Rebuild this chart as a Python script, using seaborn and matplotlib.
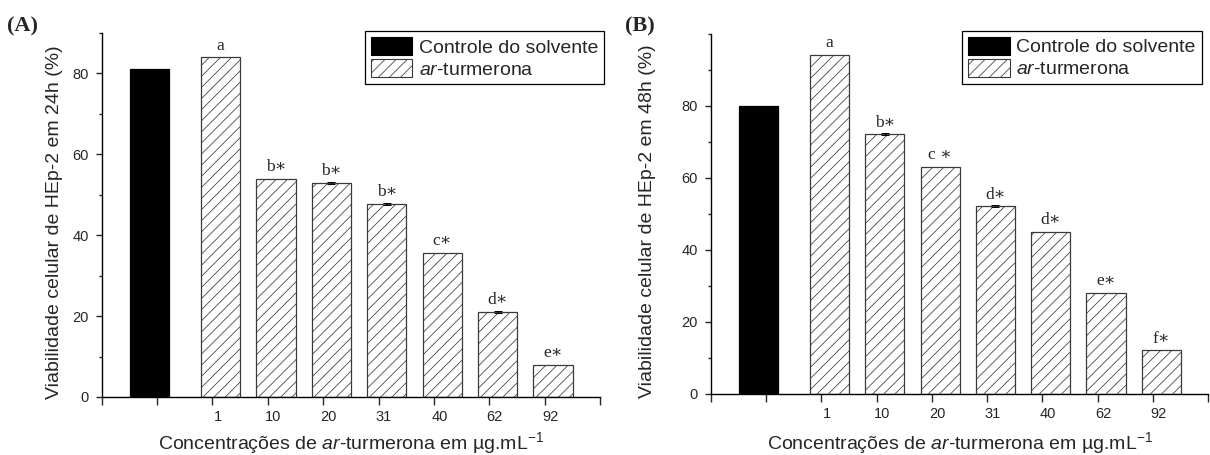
import numpy as np
import pandas as pd
import matplotlib
matplotlib.use("Agg")
import matplotlib.pyplot as plt
from matplotlib.patches import Patch
import seaborn as sns

# --- dados -------------------------------------------------------------
grupos = ["Controle do solvente", "ar-turmerona"]
concentracoes = ["1", "10", "20", "31", "40", "62", "92"]

# primeiro valor = controle do solvente, depois as 7 concentrações
viab_24h = [81.0, 84.0, 54.0, 53.0, 47.7, 35.7, 21.0, 8.0]
erro_24h = [0.0, 0.0, 0.0, 0.25, 0.25, 0.0, 0.25, 0.0]
letras_24h = ["", "a", "b\u2217", "b\u2217", "b\u2217", "c\u2217", "d\u2217", "e\u2217"]

viab_48h = [80.0, 94.0, 72.0, 63.0, 52.0, 45.0, 28.0, 12.0]
erro_48h = [0.0, 0.0, 0.25, 0.0, 0.25, 0.0, 0.0, 0.0]
letras_48h = ["", "a", "b\u2217", "c \u2217", "d\u2217", "d\u2217", "e\u2217", "f\u2217"]

ticks_y = [0, 20, 40, 60, 80]

# --- estilo ------------------------------------------------------------
sns.set_style("ticks")
plt.rcParams["font.family"] = ["Liberation Sans", "DejaVu Sans"]
plt.rcParams["mathtext.fontset"] = "custom"
plt.rcParams["mathtext.rm"] = "Liberation Sans"
plt.rcParams["mathtext.it"] = "Liberation Sans:italic"
plt.rcParams["mathtext.sf"] = "Liberation Sans"
plt.rcParams["hatch.linewidth"] = 0.55
plt.rcParams["axes.linewidth"] = 1.0

SERIF = ["Liberation Serif", "DejaVu Serif"]
COR_BORDA = "#3a3a3a"
HACHURA = "///"

# posição do controle separada das concentrações
posicoes = [0.86] + [k + 2.15 for k in range(len(concentracoes))]
pos_rotulos = [k + 2.1 for k in range(len(concentracoes))]


def painel(fig, rect, valores, erros, letras, ylabel, ymax,
           leg_anchor, ylabel_x, xlabel_y):
    ax = fig.add_axes(rect)
    df = pd.DataFrame({
        "pos": posicoes,
        "valor": valores,
        "grupo": [grupos[0]] + [grupos[1]] * len(concentracoes),
    })
    sns.barplot(data=df, x="pos", y="valor", hue="grupo", hue_order=grupos,
                palette={grupos[0]: "black", grupos[1]: "white"},
                native_scale=True, dodge=False, width=0.71, errorbar=None,
                legend=False, linewidth=0.9, edgecolor=COR_BORDA, ax=ax)

    for p in ax.patches:
        if p.get_facecolor()[0] > 0.5:
            p.set_hatch(HACHURA)
            p.set_edgecolor(COR_BORDA)
        else:
            p.set_edgecolor("black")

    for x, v, e in zip(posicoes, valores, erros):
        if e > 0:
            ax.errorbar(x, v, yerr=e, color="black", capsize=3,
                        elinewidth=0.6, capthick=0.7)

    for x, v, t in zip(posicoes, valores, letras):
        if t:
            ax.annotate(t, (x, v), xytext=(0, 5.5), textcoords="offset points",
                        ha="center", va="baseline", fontsize=12.5,
                        family=SERIF)

    # eixos
    ax.set_xlim(0, 9)
    ax.set_ylim(0, ymax)
    ax.set_xticks(range(10))
    ax.set_xticklabels([])
    ax.set_xticks(pos_rotulos, concentracoes, minor=True)
    ax.tick_params(axis="x", which="major", length=5.5, width=1.0,
                   direction="out")
    ax.tick_params(axis="x", which="minor", length=0, pad=9.5, labelsize=10.5)
    ax.set_yticks(ticks_y)
    ax.set_yticks([t + 10 for t in ticks_y if t + 10 <= ymax] +
                  ([ymax] if ymax % 20 == 0 and ymax not in ticks_y else []),
                  minor=True)
    ax.tick_params(axis="y", which="major", length=4, width=1.0, pad=5.5,
                   labelsize=10.5, direction="out")
    ax.tick_params(axis="y", which="minor", length=2.5, width=1.0,
                   direction="out")
    for lado in ("top", "right"):
        ax.spines[lado].set_visible(False)
    for lado in ("left", "bottom"):
        ax.spines[lado].set_color("black")

    ax.set_xlabel("Concentrações de $\\mathit{ar}$-turmerona em µg.mL$^{-1}$",
                  fontsize=14, va="top")
    ax.xaxis.set_label_coords(0.5, xlabel_y)
    ax.set_ylabel(ylabel, fontsize=14)
    ax.yaxis.set_label_coords(ylabel_x, 0.48)

    handles = [
        Patch(facecolor="black", edgecolor="black", linewidth=0.8),
        Patch(facecolor="white", edgecolor=COR_BORDA, hatch=HACHURA,
              linewidth=0.8),
    ]
    leg = ax.legend(handles, ["Controle do solvente", "$\\mathit{ar}$-turmerona"],
                    loc="upper left", bbox_to_anchor=leg_anchor,
                    borderaxespad=0, fontsize=14, frameon=True, fancybox=False,
                    framealpha=1, edgecolor="black", handlelength=2.15,
                    handleheight=1.05, handletextpad=0.35, borderpad=0.3,
                    labelspacing=0.12)
    leg.get_frame().set_linewidth(0.9)
    return ax


fig = plt.figure(figsize=(12.1, 4.55), dpi=100, facecolor="white")

painel(fig, [101.7 / 1210, 58 / 455, 498.3 / 1210, 364 / 455],
       viab_24h, erro_24h, letras_24h,
       "Viabilidade celular de HEp-2 em 24h (%)", 90,
       leg_anchor=(0.528, 1.005), ylabel_x=-0.078, xlabel_y=-0.09)

painel(fig, [710.7 / 1210, 61.5 / 455, 497.6 / 1210, 360 / 455],
       viab_48h, erro_48h, letras_48h,
       "Viabilidade celular de HEp-2 em 48h (%)", 100,
       leg_anchor=(0.505, 1.007), ylabel_x=-0.11, xlabel_y=-0.103)

fig.text(7 / 1210, 1 - 31 / 455, "(A)", fontsize=16, fontweight="bold",
         family=SERIF, ha="left", va="baseline")
fig.text(625 / 1210, 1 - 31 / 455, "(B)", fontsize=16, fontweight="bold",
         family=SERIF, ha="left", va="baseline")

fig.savefig("out.png", dpi=100, facecolor="white")
